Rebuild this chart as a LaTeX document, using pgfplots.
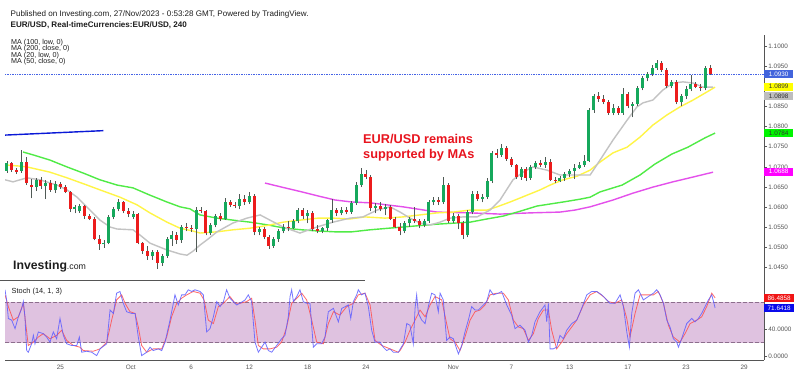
\documentclass[border=0pt]{standalone}
\usepackage{pgfplots}
\pgfplotsset{compat=1.18}
\usepackage{pgfplotstable}
\usepackage{fontspec}
\setmainfont{Liberation Sans}

\definecolor{wick}{RGB}{80,90,85}
\definecolor{magray}{RGB}{195,195,195}
\definecolor{mayellow}{RGB}{255,245,70}
\definecolor{magreen}{RGB}{80,235,70}
\definecolor{mamag}{RGB}{228,80,235}
\definecolor{boxblue}{RGB}{66,100,220}
\definecolor{boxyellow}{RGB}{255,255,0}
\definecolor{boxgray}{RGB}{190,190,190}
\definecolor{boxgreen}{RGB}{0,245,0}
\definecolor{boxmag}{RGB}{255,0,255}
\definecolor{band}{RGB}{223,194,224}
\definecolor{bandline}{RGB}{140,110,140}
\definecolor{stblue}{RGB}{95,95,255}
\definecolor{stred}{RGB}{255,80,80}
\definecolor{axgray}{RGB}{85,85,85}
\definecolor{txt}{RGB}{30,30,30}
\definecolor{lineblue}{RGB}{10,25,215}
\definecolor{dotblue}{RGB}{70,100,230}
\definecolor{headred}{RGB}{232,20,30}

\pgfplotstableread{
x o h l c m
-3.667 1.0690 1.0715 1.0685 1.0710 1
-3.333 1.0710 1.0712 1.0688 1.0692 0
-3.000 1.0692 1.0698 1.0682 1.0688 0
-2.667 1.0690 1.0742 1.0686 1.0712 1
-2.333 1.0712 1.0725 1.0655 1.0660 0
-2.000 1.0655 1.0670 1.0622 1.0650 0
-1.667 1.0650 1.0672 1.0640 1.0668 1
-1.333 1.0668 1.0675 1.0645 1.0652 0
-1.000 1.0652 1.0668 1.0620 1.0660 1
-0.667 1.0660 1.0668 1.0638 1.0642 0
-0.333 1.0642 1.0665 1.0635 1.0658 1
0.000 1.0658 1.0662 1.0645 1.0650 0
0.333 1.0650 1.0655 1.0635 1.0638 0
0.667 1.0638 1.0640 1.0588 1.0595 0
1.000 1.0595 1.0605 1.0585 1.0600 1
1.333 1.0590 1.0608 1.0586 1.0604 1
1.667 1.0604 1.0606 1.0572 1.0578 0
2.000 1.0578 1.0584 1.0568 1.0572 0
2.333 1.0572 1.0575 1.0518 1.0522 0
2.667 1.0522 1.0530 1.0495 1.0508 0
3.000 1.0508 1.0518 1.0500 1.0512 1
3.333 1.0512 1.0580 1.0508 1.0575 1
3.667 1.0575 1.0600 1.0570 1.0595 1
4.000 1.0595 1.0620 1.0590 1.0612 1
4.333 1.0612 1.0615 1.0585 1.0590 0
4.667 1.0590 1.0598 1.0575 1.0582 0
5.000 1.0576 1.0590 1.0570 1.0584 1
5.333 1.0584 1.0586 1.0508 1.0512 0
5.667 1.0512 1.0515 1.0485 1.0492 0
6.000 1.0492 1.0505 1.0470 1.0478 0
6.333 1.0478 1.0495 1.0470 1.0490 1
6.667 1.0490 1.0494 1.0448 1.0462 0
7.000 1.0462 1.0485 1.0455 1.0480 1
7.333 1.0480 1.0525 1.0475 1.0520 1
7.667 1.0520 1.0540 1.0505 1.0530 1
8.000 1.0530 1.0538 1.0510 1.0518 0
8.333 1.0518 1.0555 1.0512 1.0550 1
8.667 1.0550 1.0560 1.0540 1.0548 0
9.000 1.0548 1.0556 1.0538 1.0545 0
9.333 1.0545 1.0600 1.0488 1.0592 1
9.667 1.0592 1.0600 1.0585 1.0590 0
10.000 1.0590 1.0592 1.0530 1.0535 0
10.333 1.0535 1.0560 1.0530 1.0555 1
10.667 1.0555 1.0582 1.0550 1.0578 1
11.000 1.0578 1.0585 1.0565 1.0572 0
11.333 1.0572 1.0622 1.0568 1.0612 1
11.667 1.0612 1.0618 1.0600 1.0606 0
12.000 1.0606 1.0612 1.0598 1.0604 0
12.333 1.0604 1.0632 1.0595 1.0620 1
12.667 1.0620 1.0630 1.0605 1.0612 0
13.000 1.0612 1.0638 1.0608 1.0628 1
13.333 1.0628 1.0632 1.0530 1.0538 0
13.667 1.0538 1.0552 1.0530 1.0545 1
14.000 1.0545 1.0550 1.0520 1.0525 0
14.333 1.0525 1.0530 1.0497 1.0505 0
14.667 1.0505 1.0525 1.0500 1.0520 1
15.000 1.0520 1.0545 1.0515 1.0540 1
15.333 1.0540 1.0558 1.0535 1.0552 1
15.667 1.0552 1.0565 1.0540 1.0548 0
16.000 1.0548 1.0570 1.0545 1.0565 1
16.333 1.0565 1.0598 1.0560 1.0592 1
16.667 1.0592 1.0598 1.0570 1.0578 0
17.000 1.0578 1.0592 1.0560 1.0585 1
17.333 1.0585 1.0590 1.0540 1.0545 0
17.667 1.0545 1.0555 1.0535 1.0540 0
18.000 1.0540 1.0552 1.0535 1.0548 1
18.333 1.0548 1.0572 1.0542 1.0568 1
18.667 1.0568 1.0620 1.0562 1.0592 1
19.000 1.0592 1.0598 1.0578 1.0585 0
19.333 1.0585 1.0600 1.0580 1.0594 1
19.667 1.0594 1.0600 1.0582 1.0588 0
20.000 1.0588 1.0615 1.0584 1.0610 1
20.333 1.0610 1.0662 1.0605 1.0655 1
20.667 1.0655 1.0697 1.0650 1.0682 1
21.000 1.0682 1.0692 1.0670 1.0675 0
21.333 1.0675 1.0680 1.0590 1.0598 0
21.667 1.0598 1.0610 1.0585 1.0602 1
22.000 1.0602 1.0612 1.0590 1.0595 0
22.333 1.0595 1.0608 1.0580 1.0600 1
22.667 1.0600 1.0605 1.0568 1.0572 0
23.000 1.0572 1.0575 1.0548 1.0552 0
23.333 1.0552 1.0562 1.0530 1.0540 0
23.667 1.0540 1.0565 1.0535 1.0560 1
24.000 1.0560 1.0575 1.0552 1.0570 1
24.333 1.0570 1.0600 1.0560 1.0566 0
24.667 1.0566 1.0570 1.0548 1.0555 0
25.000 1.0555 1.0570 1.0550 1.0565 1
25.333 1.0565 1.0618 1.0560 1.0612 1
25.667 1.0612 1.0625 1.0605 1.0618 1
26.000 1.0618 1.0626 1.0605 1.0612 0
26.333 1.0612 1.0675 1.0608 1.0655 1
26.667 1.0655 1.0660 1.0560 1.0565 0
27.000 1.0565 1.0585 1.0560 1.0578 1
27.333 1.0578 1.0582 1.0545 1.0560 0
27.667 1.0560 1.0565 1.0522 1.0530 0
28.000 1.0530 1.0592 1.0525 1.0588 1
28.333 1.0588 1.0640 1.0582 1.0632 1
28.667 1.0632 1.0640 1.0615 1.0620 0
29.000 1.0620 1.0632 1.0612 1.0626 1
29.333 1.0626 1.0672 1.0620 1.0665 1
29.667 1.0665 1.0740 1.0660 1.0735 1
30.000 1.0735 1.0745 1.0722 1.0730 0
30.333 1.0730 1.0757 1.0725 1.0748 1
30.667 1.0748 1.0752 1.0715 1.0720 0
31.000 1.0720 1.0725 1.0700 1.0706 0
31.333 1.0706 1.0708 1.0670 1.0675 0
31.667 1.0675 1.0700 1.0668 1.0695 1
32.000 1.0695 1.0700 1.0665 1.0672 0
32.333 1.0672 1.0705 1.0668 1.0700 1
32.667 1.0700 1.0715 1.0695 1.0710 1
33.000 1.0710 1.0718 1.0700 1.0705 0
33.333 1.0705 1.0725 1.0698 1.0712 1
33.667 1.0712 1.0720 1.0665 1.0668 0
34.000 1.0668 1.0675 1.0660 1.0665 0
34.333 1.0665 1.0678 1.0662 1.0672 1
34.667 1.0672 1.0688 1.0665 1.0682 1
35.000 1.0682 1.0695 1.0675 1.0690 1
35.333 1.0690 1.0708 1.0670 1.0698 1
35.667 1.0698 1.0712 1.0695 1.0705 1
36.000 1.0705 1.0730 1.0700 1.0715 1
36.333 1.0715 1.0845 1.0712 1.0840 1
36.667 1.0840 1.0882 1.0835 1.0876 1
37.000 1.0876 1.0885 1.0862 1.0868 0
37.333 1.0868 1.0878 1.0855 1.0860 0
37.667 1.0860 1.0865 1.0830 1.0835 0
38.000 1.0835 1.0855 1.0828 1.0845 1
38.333 1.0845 1.0850 1.0830 1.0835 0
38.667 1.0835 1.0895 1.0830 1.0880 1
39.000 1.0880 1.0885 1.0845 1.0852 0
39.333 1.0852 1.0860 1.0823 1.0856 1
39.667 1.0856 1.0900 1.0850 1.0895 1
40.000 1.0895 1.0925 1.0890 1.0920 1
40.333 1.0920 1.0935 1.0912 1.0930 1
40.667 1.0930 1.0952 1.0925 1.0945 1
41.000 1.0945 1.0965 1.0940 1.0958 1
41.333 1.0958 1.0962 1.0935 1.0940 0
41.667 1.0940 1.0945 1.0895 1.0900 0
42.000 1.0900 1.0915 1.0895 1.0910 1
42.333 1.0910 1.0915 1.0855 1.0860 0
42.667 1.0860 1.0880 1.0850 1.0875 1
43.000 1.0875 1.0900 1.0868 1.0893 1
43.333 1.0893 1.0928 1.0888 1.0905 1
43.667 1.0905 1.0910 1.0895 1.0898 0
44.000 1.0898 1.0905 1.0888 1.0895 0
44.333 1.0895 1.0950 1.0890 1.0945 1
44.667 1.0945 1.0952 1.0928 1.0930 0
}\candles

\pgfplotstableread{
d p
-3.80 1.0668
-3.25 1.0663
-2.29 1.0673
-1.40 1.0668
-0.23 1.0655
0.46 1.0643
1.15 1.0625
2.04 1.0593
2.73 1.0568
3.42 1.0551
3.90 1.0546
5.00 1.0544
5.48 1.0531
6.16 1.0511
7.33 1.0494
8.23 1.0484
8.71 1.0481
9.12 1.0491
9.60 1.0506
10.08 1.0519
10.77 1.0539
11.87 1.0561
12.83 1.0573
13.73 1.0581
14.41 1.0568
15.31 1.0551
16.47 1.0536
17.64 1.0551
18.74 1.0563
19.91 1.0573
20.80 1.0576
21.77 1.0593
22.66 1.0601
23.35 1.0588
24.03 1.0573
24.72 1.0561
25.41 1.0556
26.10 1.0563
26.78 1.0573
27.67 1.0576
28.64 1.0576
29.53 1.0593
30.22 1.0618
31.11 1.0668
31.80 1.0687
32.49 1.0700
33.45 1.0692
34.34 1.0680
36.41 1.0680
37.09 1.0717
37.99 1.0767
38.95 1.0816
39.63 1.0849
40.05 1.0859
40.73 1.0866
41.42 1.0891
42.10 1.0908
42.80 1.0911
43.49 1.0908
44.17 1.0898
44.86 1.0898
}\magrayT

\pgfplotstableread{
d p
-3.80 1.0705
-2.77 1.0702
-2.29 1.0700
-0.71 1.0687
0.46 1.0673
1.84 1.0655
2.73 1.0643
4.10 1.0625
5.27 1.0606
6.16 1.0586
7.33 1.0563
8.23 1.0548
9.12 1.0541
9.60 1.0536
10.77 1.0539
11.87 1.0544
13.04 1.0548
14.41 1.0556
15.31 1.0563
16.47 1.0568
17.71 1.0573
18.74 1.0573
19.91 1.0571
20.94 1.0576
22.32 1.0573
23.55 1.0576
24.72 1.0581
25.89 1.0586
26.99 1.0588
28.16 1.0593
29.33 1.0593
30.01 1.0601
30.91 1.0613
32.08 1.0630
32.97 1.0643
33.66 1.0655
34.55 1.0668
35.51 1.0677
36.41 1.0692
37.09 1.0712
37.99 1.0735
38.95 1.0749
39.84 1.0774
40.73 1.0804
41.69 1.0829
42.59 1.0849
43.49 1.0866
44.44 1.0886
45.00 1.0898
}\mayellowT

\pgfplotstableread{
d p
-2.56 1.0737
-1.88 1.0730
-0.71 1.0717
0.46 1.0700
1.56 1.0685
2.73 1.0668
3.90 1.0655
5.00 1.0648
6.16 1.0630
7.33 1.0613
8.23 1.0601
8.91 1.0596
9.60 1.0581
10.77 1.0573
11.87 1.0568
13.04 1.0563
14.28 1.0556
15.44 1.0548
16.61 1.0544
17.71 1.0541
18.88 1.0539
20.04 1.0539
21.28 1.0544
23.55 1.0551
25.89 1.0558
28.16 1.0563
29.33 1.0571
30.43 1.0578
31.59 1.0590
32.76 1.0603
34.55 1.0613
35.72 1.0620
36.41 1.0625
37.09 1.0638
38.61 1.0655
39.84 1.0680
40.86 1.0707
42.03 1.0732
43.13 1.0749
44.30 1.0772
45.00 1.0784
}\magreenT

\pgfplotstableread{
d p
14.07 1.0660
15.44 1.0648
16.61 1.0638
17.71 1.0628
18.88 1.0618
20.04 1.0613
21.28 1.0611
23.55 1.0601
25.89 1.0588
28.16 1.0586
30.22 1.0583
32.28 1.0586
34.34 1.0588
35.37 1.0593
36.41 1.0601
37.99 1.0618
39.36 1.0635
40.73 1.0650
42.10 1.0663
43.49 1.0675
44.86 1.0687
}\mamagT

\pgfplotstableread{
d v
-3.80 98.5
-3.69 83.5
-3.57 56
-3.34 53.5
-3.11 41
-2.88 58.5
-2.65 71
-2.54 81
-2.43 58.5
-2.31 8.5
-2.20 6
-1.97 18.5
-1.85 31
-1.74 18.5
-1.51 36
-1.17 33.5
-0.94 28.5
-0.71 21
-0.48 36
-0.25 26
-0.02 56
0.21 31
0.44 18.5
0.78 16
1.13 16
1.31 28.5
1.47 6
1.81 7.5
2.16 6
2.50 1
2.73 11
3.19 18.5
3.42 68.5
3.65 63.5
3.87 93.5
4.10 96
4.33 78.5
4.56 66
4.91 63.5
5.14 63.5
5.36 28.5
5.59 1
5.94 6
6.17 13.5
6.39 8.5
6.74 11
6.97 8.5
7.20 21
7.54 53.5
7.77 78.5
7.88 91
8.11 76
8.34 91
8.57 91
8.80 98.5
9.03 96
9.26 98.5
9.60 96
9.83 91
10.06 36
10.29 41
10.52 58.5
10.75 81
10.98 73.5
11.21 81
11.43 98.5
11.66 86
11.89 81
12.12 76
12.35 78.5
12.70 83.5
12.92 91
13.15 81
13.38 21
13.61 6
13.84 13.5
14.07 21
14.30 8.5
14.53 6
14.87 16
15.21 26
15.44 31
15.67 58.5
15.79 88.5
15.90 98.5
16.02 81
16.25 88.5
16.47 98.5
16.70 81
16.93 78.5
17.16 78.5
17.39 13.5
17.62 18.5
17.96 18.5
18.19 28.5
18.42 66
18.77 71
19.11 51
19.34 71
19.57 73.5
19.80 76
19.96 56
20.14 81
20.37 91
20.48 98.5
20.71 91
20.94 93.5
21.17 73.5
21.40 38.5
21.63 21
21.97 21
22.20 13.5
22.43 8.5
22.66 11
22.89 6
23.23 6
23.58 18.5
23.81 48.5
24.03 46
24.26 18.5
24.38 71
24.49 91
24.61 63.5
24.84 53.5
25.07 48.5
25.29 73.5
25.52 93.5
25.75 91
25.98 66
26.10 93.5
26.32 83.5
26.55 23.5
26.78 28.5
27.01 26
27.24 11
27.36 3.5
27.59 16
27.81 36
28.04 53.5
28.27 73.5
28.50 68.5
28.73 68.5
28.96 73.5
29.30 81
29.53 98.5
29.76 91
30.11 93.5
30.33 96
30.68 76
31.02 61
31.25 41
31.59 46
31.94 38.5
32.17 21
32.40 31
32.62 51
32.97 66
33.31 76
33.43 51
33.54 78.5
33.66 11
33.88 11
34.11 13.5
34.34 31
34.57 26
34.80 38.5
35.15 48.5
35.49 53.5
35.83 71
36.18 91
36.52 96
36.86 96
37.21 91
37.55 83.5
37.78 78.5
38.12 78.5
38.47 91
38.70 73.5
38.93 36
39.11 13.5
39.27 63.5
39.50 93.5
39.73 98.5
40.07 83.5
40.41 88.5
40.76 93.5
40.99 98.5
41.22 91
41.45 78.5
41.68 53.5
41.90 43.5
42.13 26
42.36 21
42.48 13.5
42.70 26
43.05 48.5
43.39 56
43.62 51
43.85 56
44.08 63.5
44.31 73.5
44.54 83.5
44.77 91
45.00 71.64
}\stK

\pgfplotstableread{
d v
-3.80 91
-3.57 73.5
-3.23 53.5
-2.88 58.5
-2.54 78.5
-2.20 16
-1.85 21
-1.51 28.5
-1.17 33.5
-0.71 26
-0.25 31
0.09 38.5
0.44 23.5
0.90 16
1.35 13.5
1.58 8.5
2.27 7.5
2.73 11
3.19 21
3.53 53.5
3.87 83.5
4.22 91
4.45 78.5
4.79 66
5.14 63.5
5.36 43.5
5.59 16
5.94 6
6.39 11
6.97 11
7.31 28.5
7.65 58.5
8.00 78.5
8.34 86
8.69 91
9.14 96
9.60 93.5
9.88 83.5
10.17 53.5
10.52 48.5
10.86 73.5
11.21 78.5
11.66 88.5
12.01 78.5
12.35 78.5
12.81 81
13.15 86
13.38 53.5
13.61 16
13.95 11
14.41 11
14.87 13.5
15.21 21
15.56 43.5
15.90 78.5
16.25 86
16.59 93.5
16.93 83.5
17.28 53.5
17.62 21
18.08 18.5
18.42 48.5
18.77 66
19.22 61
19.68 73.5
20.14 78.5
20.48 91
20.94 93.5
21.29 76
21.63 23.5
22.09 16
22.66 11
23.23 6
23.35 8.5
23.69 21
24.03 38.5
24.38 53.5
24.72 68.5
25.07 58.5
25.41 76
25.75 88.5
26.21 83.5
26.55 48.5
26.78 26
27.13 21
27.47 8.5
27.81 28.5
28.16 53.5
28.50 66
28.85 68.5
29.19 76
29.53 91
29.99 93.5
30.45 93.5
30.79 83.5
31.14 53.5
31.48 43.5
31.82 41
32.17 23.5
32.51 33.5
32.85 56
33.20 68.5
33.54 68.5
33.77 38.5
34.11 11
34.46 21
34.80 33.5
35.15 43.5
35.49 53.5
35.95 76
36.41 91
36.86 96
37.32 88.5
37.67 81
38.12 78.5
38.58 83.5
38.93 56
39.15 28.5
39.50 63.5
39.84 91
40.30 91
40.76 91
41.10 96
41.45 78.5
41.79 46
42.13 28.5
42.59 21
42.93 33.5
43.28 48.5
43.74 53.5
44.08 58.5
44.42 73.5
44.77 93.5
45.00 86.49
}\stD

\begin{document}
\begin{tikzpicture}
\path[use as bounding box] (0,0) rectangle (800bp,375bp);
\fill[white] (0,0) rectangle (800bp,375bp);

% ---------------- main price panel ----------------
\begin{axis}[
  at={(5bp,95bp)}, anchor=south west, scale only axis,
  width=759bp, height=245bp,
  xmin=-3.8, xmax=48.36, ymin=1.04195, ymax=1.10273,
  axis x line=none, axis y line*=right,
  axis line style={draw=axgray, line width=0.8bp},
  ytick={1.045,1.05,1.055,1.06,1.065,1.07,1.075,1.08,1.085,1.09,1.095,1.1},
  yticklabel={\pgfmathprintnumber[fixed,fixed zerofill,precision=4,assume math mode=true]{\tick}},
  scaled y ticks=false,
  tick align=outside, major tick length=3bp,
  y tick style={draw=axgray, line width=0.6bp},
  yticklabel style={font=\fontsize{6.4}{7}\selectfont, text=axgray, inner sep=1.2bp},
  clip mode=individual,
  colormap={updown}{rgb255=(236,28,28) rgb255=(22,168,92)},
  point meta min=0, point meta max=1,
]
\addplot[dotblue, densely dotted, line width=0.7bp] coordinates {(-3.8,1.0930) (48.36,1.0930)};
\addplot[lineblue, line width=1.4bp] coordinates {(-3.80,1.0779) (2.96,1.0790)};
\addplot[mamag, line width=1.4bp] table[x=d,y=p] {\mamagT};
\addplot[magreen, line width=1.4bp] table[x=d,y=p] {\magreenT};
\addplot[mayellow, line width=1.4bp] table[x=d,y=p] {\mayellowT};
\addplot[magray, line width=1.4bp] table[x=d,y=p] {\magrayT};
\addplot[wick, line width=0.6bp, -, quiver={u=0, v=\thisrow{h}-\thisrow{l}}] table[x=x,y=l] {\candles};
\addplot[line width=3bp, -, point meta=explicit,
  quiver={u=0, v=\thisrow{c}-\thisrow{o}, colored=mapped color}] table[x=x,y=o,meta=m] {\candles};

\tikzset{pricebox/.style={anchor=west, font=\fontsize{6.4}{7}\selectfont, inner xsep=2.2bp, inner ysep=0pt, minimum height=8bp, minimum width=29bp}}
\node[pricebox, fill=boxmag, text=white] at (axis cs:48.36,1.0688) {1.0688};
\node[pricebox, fill=boxgreen, text=black!80] at (axis cs:48.36,1.0784) {1.0784};
\node[pricebox, fill=boxgray, text=black!80] at (axis cs:48.36,1.0875) {1.0898};
\node[pricebox, fill=boxyellow, text=black!80] at (axis cs:48.36,1.0899) {1.0899};
\node[pricebox, fill=boxblue, text=white] at (axis cs:48.36,1.0930) {1.0930};
\end{axis}

% ---------------- stochastic panel ----------------
\begin{axis}[
  at={(5bp,15bp)}, anchor=south west, scale only axis,
  width=759bp, height=80bp,
  xmin=-3.8, xmax=48.36, ymin=-5.5, ymax=113,
  axis x line*=bottom, axis y line*=right,
  axis line style={draw=axgray, line width=0.8bp},
  xtick={0,4.84,9,13,17,21,27,31,35,39,43,47},
  xticklabels={25,Oct,6,12,18,24,Nov,7,13,17,23,29},
  x tick style={draw=none},
  ytick={0,40}, yticklabels={0.0000,40.0000},
  tick align=outside, major tick length=3bp,
  y tick style={draw=axgray, line width=0.6bp},
  yticklabel style={font=\fontsize{6.4}{7}\selectfont, text=axgray, inner sep=1.2bp},
  xticklabel style={font=\fontsize{6.4}{7}\selectfont, text=axgray, inner sep=1.5bp},
  clip mode=individual,
]
\addplot[fill=band, draw=none] coordinates {(-3.8,20) (48.36,20) (48.36,80) (-3.8,80)} -- cycle;
\addplot[bandline, dash pattern=on 3.5bp off 2.5bp, line width=0.6bp] coordinates {(-3.8,20) (48.36,20)};
\addplot[bandline, dash pattern=on 3.5bp off 2.5bp, line width=0.6bp] coordinates {(-3.8,80) (48.36,80)};
\addplot[stred, line width=0.8bp, opacity=0.85] table[x=d,y=v] {\stD};
\addplot[stblue, line width=0.8bp, opacity=0.85] table[x=d,y=v] {\stK};
\tikzset{stbox/.style={anchor=west, font=\fontsize{6.4}{7}\selectfont, text=white, inner xsep=2bp, inner ysep=0pt, minimum height=8bp, minimum width=30bp}}
\node[stbox, fill={rgb,255:red,240;green,20;blue,20}] at (axis cs:48.36,86.4858) {86.4858};
\node[stbox, fill={rgb,255:red,10;green,10;blue,235}] at (axis cs:48.36,71.6418) {71.6418};
\end{axis}

% ---------------- texts ----------------
\draw[axgray, line width=0.8bp] (0,94.3bp) -- (365bp,94.3bp);
\node[anchor=base west, inner sep=0, text=txt, font=\fontsize{8.1}{9}\selectfont] at (10.5bp,358.8bp)
  {Published on Investing.com, 27/Nov/2023 - 0:53:28 GMT, Powered by TradingView.};
\node[anchor=base west, inner sep=0, text=txt, font=\fontsize{8.1}{9}\selectfont\bfseries] at (10.5bp,347.1bp)
  {EUR/USD, Real-timeCurrencies:EUR/USD, 240};
\node[anchor=base west, inner sep=0, text=txt, font=\fontsize{7.2}{8}\selectfont] at (11bp,330.7bp) {MA (100, low, 0)};
\node[anchor=base west, inner sep=0, text=txt, font=\fontsize{7.2}{8}\selectfont] at (11bp,324.2bp) {MA (200, close, 0)};
\node[anchor=base west, inner sep=0, text=txt, font=\fontsize{7.2}{8}\selectfont] at (11bp,317.6bp) {MA (20, low, 0)};
\node[anchor=base west, inner sep=0, text=txt, font=\fontsize{7.2}{8}\selectfont] at (11bp,311.0bp) {MA (50, close, 0)};
\node[anchor=base west, inner sep=0, text=headred, font=\fontsize{12.8}{14}\selectfont\bfseries] at (363bp,231bp) {EUR/USD remains};
\node[anchor=base west, inner sep=0, text=headred, font=\fontsize{12.8}{14}\selectfont\bfseries] at (363bp,216.8bp) {supported by MAs};
\node[anchor=base west, inner sep=0, text=txt] at (13bp,105.5bp)
  {{\fontsize{12.3}{14}\selectfont\bfseries Investing}{\fontsize{8.8}{10}\selectfont .com}};
\node[anchor=base west, inner sep=0, text=txt, font=\fontsize{7.4}{8}\selectfont] at (11.5bp,81.6bp) {Stoch (14, 1, 3)};
\end{tikzpicture}
\end{document}
